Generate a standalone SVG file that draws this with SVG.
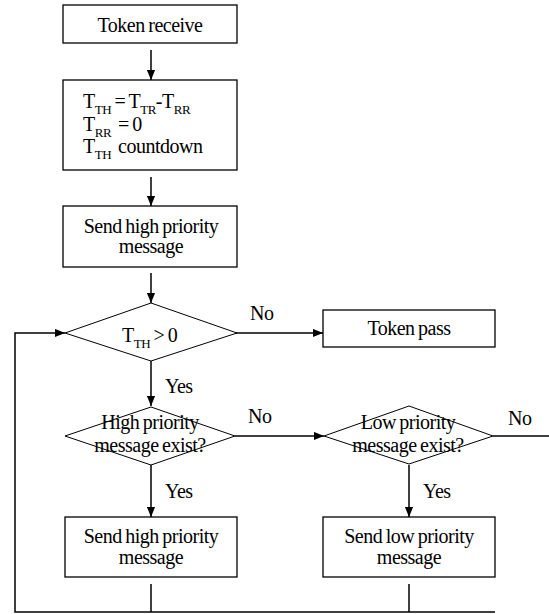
<svg xmlns="http://www.w3.org/2000/svg" width="549" height="614" viewBox="0 0 549 614">
<style>
text{font-family:'Liberation Serif','Times New Roman',serif;font-size:20px;fill:#000;letter-spacing:-0.5px;word-spacing:-1px}
.c{text-anchor:middle}
.sub{font-size:13px}
.box{fill:#fff;stroke:#000;stroke-width:1.3}
.dia{fill:#fff;stroke:#000;stroke-width:1}
.ln{fill:none;stroke:#000;stroke-width:1.5}
</style>
<defs>
<marker id="ah" markerWidth="10" markerHeight="9" refX="11" refY="4.5" viewBox="0 0 11 9" markerUnits="userSpaceOnUse" orient="auto">
<path d="M0,0 L11,4.5 L0,9 Z" fill="#000"/>
</marker>
</defs>
<rect width="549" height="614" fill="#fff"/>
<g id="connectors">
<line class="ln" x1="151" y1="50" x2="151" y2="80" marker-end="url(#ah)"/>
<line class="ln" x1="151" y1="177" x2="151" y2="206" marker-end="url(#ah)"/>
<line class="ln" x1="151" y1="273" x2="151" y2="303" marker-end="url(#ah)"/>
<line class="ln" x1="151" y1="361" x2="151" y2="406" marker-end="url(#ah)"/>
<line class="ln" x1="151" y1="465" x2="151" y2="517" marker-end="url(#ah)"/>
<line class="ln" x1="409" y1="465" x2="409" y2="517" marker-end="url(#ah)"/>
<line class="ln" x1="236" y1="333" x2="323" y2="333" marker-end="url(#ah)"/>
<line class="ln" x1="235" y1="436" x2="324" y2="436" marker-end="url(#ah)"/>
<line class="ln" x1="493" y1="436" x2="549" y2="436"/>
<line class="ln" x1="151" y1="584" x2="151" y2="612"/>
<line class="ln" x1="409" y1="584" x2="409" y2="612"/>
<polyline class="ln" points="495,612 15,612 15,333 65,333" marker-end="url(#ah)"/>
<text x="250" y="320">No</text>
<text x="248" y="423">No</text>
<text x="508" y="425">No</text>
<text x="165" y="393">Yes</text>
<text x="165" y="498">Yes</text>
<text x="423" y="498">Yes</text>
</g>
<g id="token-receive">
<rect class="box" x="63" y="5" width="174" height="38"/>
<text class="c" x="150" y="32">Token receive</text>
</g>
<g id="init">
<rect class="box" x="63" y="80" width="174" height="90"/>
<text x="83" y="108">T<tspan class="sub" dy="6">TH</tspan><tspan dy="-6"> = T</tspan><tspan class="sub" dy="6">TR</tspan><tspan dy="-6">-T</tspan><tspan class="sub" dy="6">RR</tspan></text>
<text x="83" y="131">T<tspan class="sub" dy="6">RR</tspan><tspan dy="-6" xml:space="preserve">  = 0</tspan></text>
<text x="83" y="153">T<tspan class="sub" dy="6">TH</tspan><tspan dy="-6" xml:space="preserve">  countdown</tspan></text>
</g>
<g id="send-high-1">
<rect class="box" x="63" y="206" width="174" height="61"/>
<text class="c" x="151" y="233">Send high priority</text>
<text class="c" x="151" y="253">message</text>
</g>
<g id="tth-check">
<polygon class="dia" points="151,303 237,333 151,361 65,333"/>
<text x="122" y="342">T<tspan class="sub" dy="6">TH</tspan><tspan dy="-6"> &gt; 0</tspan></text>
</g>
<g id="token-pass">
<rect class="box" x="323" y="310" width="172" height="37"/>
<text class="c" x="409" y="335">Token pass</text>
</g>
<g id="high-exist">
<polygon class="dia" points="151,407 235,436 151,465 65,436"/>
<text class="c" x="150" y="429">High priority</text>
<text class="c" x="150" y="452">message exist?</text>
</g>
<g id="low-exist">
<polygon class="dia" points="409,406 493,436 409,464 324,436"/>
<text class="c" x="408" y="429">Low priority</text>
<text class="c" x="408" y="452">message exist?</text>
</g>
<g id="send-high-2">
<rect class="box" x="65" y="517" width="172" height="60"/>
<text class="c" x="151" y="543">Send high priority</text>
<text class="c" x="151" y="564">message</text>
</g>
<g id="send-low">
<rect class="box" x="323" y="517" width="172" height="60"/>
<text class="c" x="409" y="543">Send low priority</text>
<text class="c" x="409" y="564">message</text>
</g>
</svg>
